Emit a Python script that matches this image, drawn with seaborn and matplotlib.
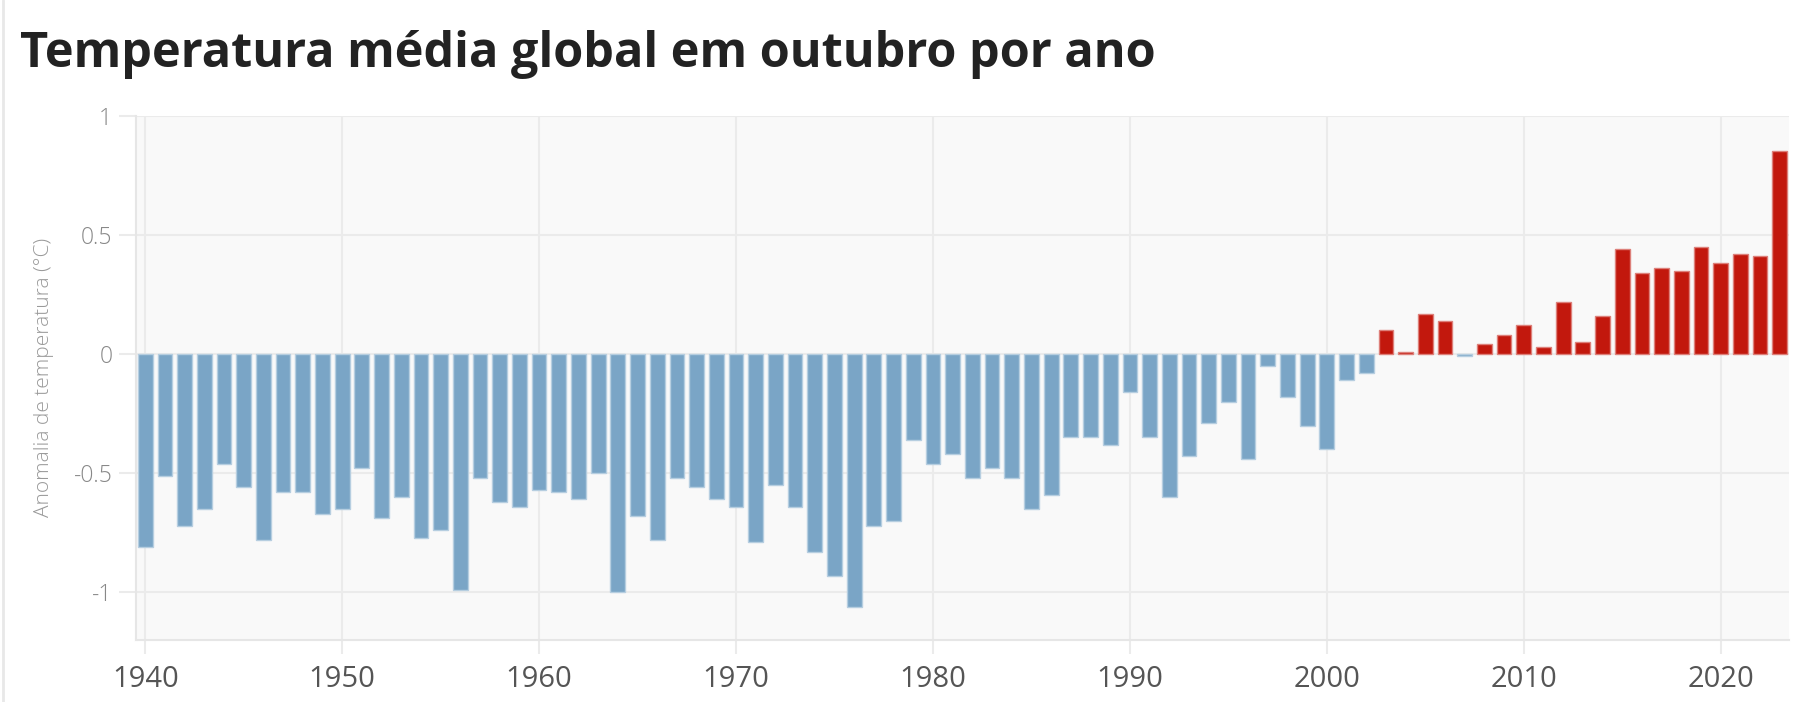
import matplotlib
matplotlib.use("Agg")
import matplotlib.pyplot as plt
from matplotlib.lines import Line2D
import seaborn as sns
import pandas as pd
import numpy as np

# ---- data ----
years = list(range(1940, 2024))
anomalies = [
    -0.81, -0.51, -0.72, -0.65, -0.46, -0.56, -0.78, -0.58, -0.58, -0.67,  # 1940s
    -0.65, -0.48, -0.69, -0.60, -0.77, -0.74, -0.99, -0.52, -0.62, -0.64,  # 1950s
    -0.57, -0.58, -0.61, -0.50, -1.00, -0.68, -0.78, -0.52, -0.56, -0.61,  # 1960s
    -0.64, -0.79, -0.55, -0.64, -0.83, -0.93, -1.06, -0.72, -0.70, -0.36,  # 1970s
    -0.46, -0.42, -0.52, -0.48, -0.52, -0.65, -0.59, -0.35, -0.35, -0.38,  # 1980s
    -0.16, -0.35, -0.60, -0.43, -0.29, -0.20, -0.44, -0.05, -0.18, -0.30,  # 1990s
    -0.40, -0.11, -0.08, 0.10, 0.01, 0.17, 0.14, -0.01, 0.04, 0.08,        # 2000s
    0.12, 0.03, 0.22, 0.05, 0.16, 0.44, 0.34, 0.36, 0.35, 0.45,            # 2010s
    0.38, 0.42, 0.41, 0.85,                                                # 2020s
]
x_ticks = [1940, 1950, 1960, 1970, 1980, 1990, 2000, 2010, 2020]
y_ticks = [-1, -0.5, 0, 0.5, 1]
y_tick_labels = ["-1", "-0.5", "0", "0.5", "1"]
title = "Temperatura média global em outubro por ano"
y_label = "Anomalia de temperatura (°C)"

BLUE = "#7aa5c6"
RED = "#c2180d"

df = pd.DataFrame({"ano": years, "anomalia": anomalies})
df["sinal"] = np.where(df["anomalia"] > 0, "pos", "neg")

sns.set_theme(style="white")
plt.rcParams["font.family"] = ["Open Sans", "DejaVu Sans"]

fig = plt.figure(figsize=(18.17, 7.02), dpi=100)
fig.patch.set_facecolor("white")
ax = fig.add_axes([136 / 1817, 1 - 640 / 702, (1789 - 136) / 1817, (640 - 115.7) / 702])
ax.set_facecolor("#f9f9f9")

sns.barplot(
    data=df, x="ano", y="anomalia", hue="sinal",
    palette={"neg": BLUE, "pos": RED},
    native_scale=True, dodge=False, width=0.75,
    legend=False, ax=ax, saturation=1,
)

for p in ax.patches:
    fc = np.array(p.get_facecolor())
    ec = fc.copy()
    ec[:3] = fc[:3] * 0.55 + 0.45
    p.set_edgecolor(ec)
    p.set_linewidth(1.0)

ax.set_xlim(1939.53, 2023.47)
ax.set_ylim(-1.2, 1.0)
ax.set_xticks(x_ticks)
ax.set_xticklabels([str(t) for t in x_ticks])
ax.set_yticks(y_ticks)
ax.set_yticklabels(y_tick_labels)

ax.set_axisbelow(True)
ax.grid(True, color="#ebebeb", linewidth=1.5)
for side in ["top", "right"]:
    ax.spines[side].set_visible(False)
for side in ["left", "bottom"]:
    ax.spines[side].set_visible(True)
    ax.spines[side].set_color("#e6e6e6")
    ax.spines[side].set_linewidth(1.5)

ax.tick_params(axis="x", length=10, width=1.5, color="#ebebeb", pad=8,
               labelsize=21, labelcolor="#555555", bottom=True)
ax.tick_params(axis="y", length=12, width=1.5, color="#ebebeb", pad=5,
               labelsize=16.5, labelcolor="#888888", left=True)
for lbl in ax.get_yticklabels():
    lbl.set_fontweight("light")

ax.set_xlabel("")
ax.set_ylabel(y_label, fontsize=15, color="#999999", fontweight="light", labelpad=14)

fig.text(20 / 1817, 1 - 66.7 / 702, title, fontsize=35, fontweight="bold",
         color="#222222", ha="left", va="baseline")

fig.add_artist(Line2D([2.5 / 1817, 2.5 / 1817], [0, 1], color="#e8e8e8", lw=2,
                      transform=fig.transFigure))

fig.savefig("out.png", dpi=100, facecolor="white")
